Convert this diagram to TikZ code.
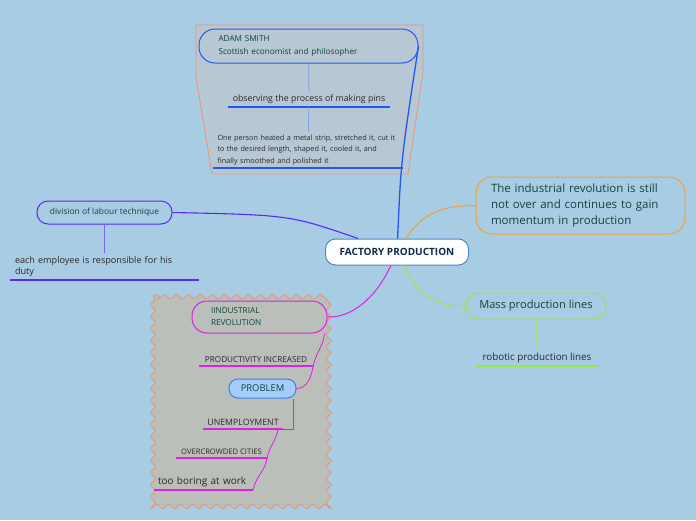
\documentclass[tikz,border=0pt]{standalone}
\usepackage{fontspec}
\setmainfont{Open Sans}
\usetikzlibrary{positioning}
\usetikzlibrary{decorations.pathmorphing}
\definecolor{mbg}{rgb}{0.66, 0.80, 0.89}
\definecolor{mtopbox}{rgb}{0.72, 0.78, 0.83}
\definecolor{mbotbox}{rgb}{0.73, 0.75, 0.73}
\definecolor{msalmon}{rgb}{0.91, 0.59, 0.48}
\definecolor{mblue}{rgb}{0.12, 0.35, 0.94}
\definecolor{mlblue}{rgb}{0.47, 0.63, 0.92}
\definecolor{mpurple}{rgb}{0.35, 0.16, 0.94}
\definecolor{mlpurple}{rgb}{0.51, 0.39, 0.94}
\definecolor{morange}{rgb}{0.94, 0.63, 0.2}
\definecolor{mgreen}{rgb}{0.59, 0.91, 0.29}
\definecolor{mlgreen}{rgb}{0.67, 0.9, 0.43}
\definecolor{mmagenta}{rgb}{0.88, 0.12, 0.88}
\definecolor{mprob}{rgb}{0.65, 0.8, 0.98}
\definecolor{mprobline}{rgb}{0.23, 0.5, 0.88}
\definecolor{mrootline}{rgb}{0.29, 0.53, 0.78}
\definecolor{mtext}{rgb}{0.06, 0.27, 0.23}
\definecolor{mdark}{rgb}{0.16, 0.16, 0.16}
\definecolor{mnavy}{rgb}{0.05, 0.16, 0.31}
\tikzset{root/.style = {draw=mrootline, fill=white, rounded corners=10, line width=1,
                        minimum width=143, minimum height=26, text=mnavy,
                        font=\bfseries\fontsize{10}{11}\selectfont}}
\tikzset{bubble/.style = {rounded corners=10, line width=1, text=mtext}}
\tikzset{leaf/.style = {anchor=south, inner xsep=4, inner ysep=3, text=mdark}}
\tikzset{uline/.style = {line width=1.4}}
\tikzset{twig/.style = {line width=0.8}}

\begin{document}
\begin{tikzpicture}[x=1pt, y=-1pt]
          \fill [mbg] (0, 0) rectangle (696, 520);
          \useasboundingbox (0, 0) rectangle (696, 520);
          \draw [msalmon, line width=0.8, fill=mtopbox] (196, 25) -- (423, 25) -- (423, 72) -- (408, 174)
                -- (212, 174) -- (196, 77) -- cycle;
          \draw [msalmon, line width=0.9, fill=mbotbox, decorate,
                 decoration={snake, segment length=12, amplitude=2.2}] (153, 295) rectangle (333, 505);

          \node [root] (factory) at (397, 252) {FACTORY PRODUCTION};

          \node [bubble, draw=mblue, rounded corners=16, minimum height=34, text width=180,
                 inner xsep=19.5, align=left, font=\fontsize{8.2}{13}\selectfont]
                (adam) at (308.5, 46) {ADAM SMITH\\Scottish economist and philosopher};
          \node [leaf, minimum width=162, font=\fontsize{8.8}{10}\selectfont]
                (pins) at (309, 107) {observing the process of making pins};
          \node [leaf, text width=181, align=left, font=\fontsize{7.3}{11.5}\selectfont]
                (steps) at (308, 168) {One person heated a metal strip, stretched it, cut it\\to the desired length, shaped it, cooled it, and\\finally smoothed and polished it};

          \node [bubble, draw=mpurple, rounded corners=11, minimum width=135, minimum height=23,
                 font=\fontsize{8.4}{9}\selectfont] (labour) at (104.5, 212.5) {division of labour technique};
          \node [leaf, text width=179, inner xsep=5, align=left, font=\fontsize{9.1}{11}\selectfont]
                (duty) at (104.5, 280) {each employee is responsible for his\\duty};

          \node [bubble, draw=morange, rounded corners=16, minimum height=57, text width=179,
                 inner xsep=15, align=left, font=\fontsize{11.5}{16}\selectfont]
                (still) at (580.5, 205.5) {The industrial revolution is still\\not over and continues to gain\\momentum in production};

          \node [bubble, draw=mgreen, rounded corners=12, minimum width=140, minimum height=26,
                 font=\fontsize{11.1}{12}\selectfont] (mass) at (536, 306) {Mass production lines};
          \node [leaf, minimum width=122, font=\fontsize{9.8}{10}\selectfont]
                (robot) at (537, 366) {robotic production lines};

          \node [bubble, draw=mmagenta, rounded corners=15, minimum height=32, text width=97,
                 inner xsep=19, align=left, font=\fontsize{8.2}{12}\selectfont]
                (indrev) at (259.5, 317) {IINDUSTRIAL\\REVOLUTION};
          \node [leaf, minimum width=114, font=\fontsize{8.2}{9}\selectfont]
                (prod) at (256, 366) {PRODUCTIVITY INCREASED};
          \node [bubble, draw=mprobline, fill=mprob, rounded corners=9, minimum width=67,
                 minimum height=19, font=\fontsize{9.4}{10}\selectfont] (prob) at (262.5, 388.5) {PROBLEM};
          \node [leaf, minimum width=80, font=\fontsize{8.75}{10}\selectfont]
                (unemp) at (243, 429) {UNEMPLOYMENT};
          \node [leaf, minimum width=91, font=\fontsize{7.6}{8}\selectfont]
                (crowd) at (221.5, 458) {OVERCROWDED CITIES};
          \node [leaf, text width=91, align=left, font=\fontsize{10}{11}\selectfont]
                (boring) at (203.5, 490) {too boring at work};

          % underlines
          \draw [uline, mblue] (pins.south west) -- (pins.south east);
          \draw [uline, mblue] (steps.south west) -- (steps.south east);
          \draw [uline, mpurple] (duty.south west) -- (duty.south east);
          \draw [uline, mgreen] (robot.south west) -- (robot.south east);
          \draw [uline, mmagenta] (prod.south west) -- (prod.south east);
          \draw [uline, mmagenta] (unemp.south west) -- (unemp.south east);
          \draw [uline, mmagenta] (crowd.south west) -- (crowd.south east);
          \draw [uline, mmagenta] (boring.south west) -- (boring.south east);

          % branches
          \draw [line width=1.3, mblue] (factory) .. controls (401, 160) .. (adam.east);
          \draw [line width=1.1, mpurple] (factory) .. controls (290, 215) .. (labour.east);
          \draw [line width=1, morange] (factory) .. controls (425, 210) and (445, 206) .. (still.west);
          \draw [line width=1, mgreen] (factory) .. controls (420, 300) and (440, 306) .. (mass.west);
          \draw [line width=1, mmagenta] (factory) .. controls (375, 300) and (350, 318) .. (indrev.east);

          \draw [twig, mlblue] (adam) -- (pins);
          \draw [twig, mlblue] (pins) -- (steps);
          \draw [twig, mlpurple] (labour) -- (duty);
          \draw [twig, mlgreen] (mass) -- (robot);

          \draw [twig, mmagenta] ([xshift=-3]indrev.south east) to [out=-95, in=80] (prod.south east);
          \draw [twig, mmagenta] (prod.south east) to [out=-100, in=0] (prob.east);
          \draw [twig, mmagenta] ([xshift=-3.5]prob.south east) |- (unemp.south east);
          \draw [twig, mmagenta] ([xshift=-5]unemp.south east) to [out=-100, in=80] (crowd.south east);
          \draw [twig, mmagenta] (crowd.south east) to [out=-100, in=80] (boring.south east);
        \end{tikzpicture}
\end{document}
